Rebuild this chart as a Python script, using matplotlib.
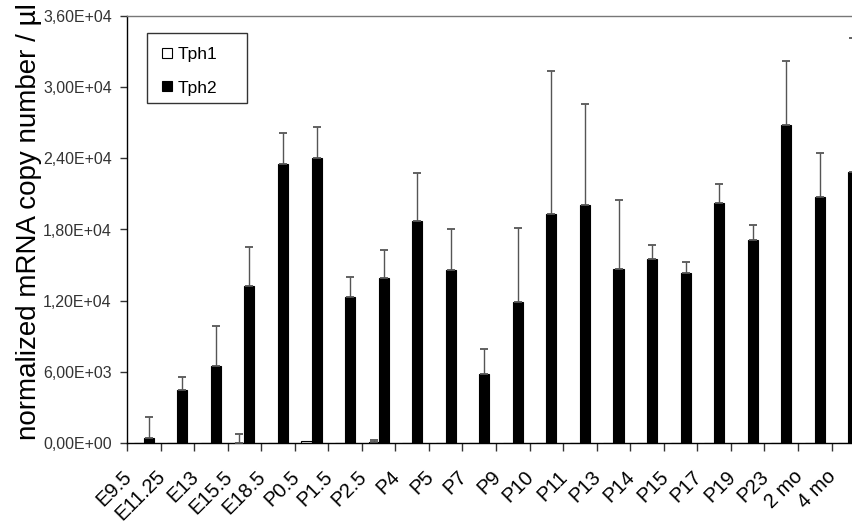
import matplotlib
matplotlib.use("Agg")
import matplotlib.pyplot as plt
import numpy as np
from matplotlib.patches import Rectangle
from matplotlib.ticker import FixedLocator, FuncFormatter, NullFormatter
from matplotlib.transforms import ScaledTranslation
from matplotlib.lines import Line2D

plt.rcParams['font.family'] = ['Liberation Sans', 'DejaVu Sans']

categories = ["E9.5", "E11.25", "E13", "E15.5", "E18.5", "P0.5", "P1.5", "P2.5",
              "P4", "P5", "P7", "P9", "P10", "P11", "P13", "P14", "P15", "P17",
              "P19", "P23", "2 mo", "4 mo"]
tph1 = [0, 0, 0, 30, 0, 150, 0, 80, 0, 0, 0, 0, 0, 0, 0, 0, 0, 0, 0, 0, 0, 0]
tph1_err = [0, 0, 0, 700, 0, 0, 0, 170, 0, 0, 0, 0, 0, 0, 0, 0, 0, 0, 0, 0, 0, 0]
tph2 = [400, 4450, 6500, 13200, 23550, 24050, 12330, 13950, 18750, 14600, 5800,
        11850, 19300, 20100, 14700, 15550, 14350, 20250, 17100, 26850, 20700, 22850]
tph2_err = [1800, 1150, 3350, 3300, 2550, 2550, 1670, 2350, 4050, 3400, 2100,
            6300, 12050, 8450, 5750, 1150, 950, 1600, 1270, 5350, 3750, 11300]
yticks = [0, 6000, 12000, 18000, 24000, 30000, 36000]

W, H = 853, 530
fig = plt.figure(figsize=(W / 100, H / 100), dpi=100)
ax_left, ax_top, ax_bottom = 127, 16, 443
AW, AH = W - ax_left, ax_bottom - ax_top
ax = fig.add_axes([ax_left / W, (H - ax_bottom) / H, AW / W, AH / H])

group_px = 33.55
x = np.arange(len(categories))
bw = 0.30

ax.bar(x - bw / 2, tph1, bw, color='white', edgecolor='black', linewidth=0.8, zorder=2)
ax.bar(x + bw / 2, tph2, bw, color='black', edgecolor='black', linewidth=0.8, zorder=2)

e1 = np.array(tph1_err)
m1 = e1 > 0
ax.errorbar((x - bw / 2)[m1], np.array(tph1)[m1], yerr=[np.zeros(m1.sum()), e1[m1]],
            fmt='none', ecolor='#555555', elinewidth=1, capsize=3, capthick=1.3, zorder=3)
e2 = np.array(tph2_err)
ax.errorbar(x + bw / 2, tph2, yerr=[np.zeros(len(x)), e2],
            fmt='none', ecolor='#555555', elinewidth=1, capsize=3, capthick=1.3, zorder=3)

ax.set_xlim(-0.5, -0.5 + AW / group_px)
ax.set_ylim(0, 36000)

# x ticks: marks at group boundaries; category labels drawn as rotated texts
ax.xaxis.set_major_locator(FixedLocator(np.arange(len(categories) + 1) - 0.5))
ax.xaxis.set_major_formatter(NullFormatter())
ax.tick_params(axis='x', which='major', direction='out', length=6, width=1, color='#333333')
lab_trans = ax.get_xaxis_transform() + ScaledTranslation(-22 / 100, -24 / 100, fig.dpi_scale_trans)
for xi, cat in zip(x, categories):
    ax.text(xi, 0, cat, transform=lab_trans, rotation=45, ha='right', va='top',
            rotation_mode='anchor', fontsize=14.5, clip_on=False)

ax.set_yticks(yticks)
ax.yaxis.set_major_formatter(FuncFormatter(lambda v, p: f"{v:.2E}".replace('.', ',')))
ax.tick_params(axis='y', direction='out', length=5, width=1, pad=6, labelsize=11.5, color='#333333')
for lab in ax.get_yticklabels():
    lab.set_color('#333333')

ax.set_ylabel("normalized mRNA copy number / µl", fontsize=20)
ax.yaxis.set_label_coords((42 - ax_left) / AW, (ax_bottom - 222) / AH)

for s in ['left', 'bottom']:
    ax.spines[s].set_color('black')
    ax.spines[s].set_linewidth(1)
ax.spines['top'].set_color('#777777')
ax.spines['top'].set_linewidth(1)
ax.spines['right'].set_visible(False)

ax.add_patch(Rectangle(((147 - ax_left) / AW, 1 - (103 - ax_top) / AH), 100 / AW, 70 / AH,
                       transform=ax.transAxes, facecolor='white', edgecolor='#333333',
                       linewidth=1, zorder=4))
handles = [Line2D([], [], marker='s', ls='none', markersize=7.5, markerfacecolor='white',
                  markeredgecolor='black', markeredgewidth=0.8, label='Tph1'),
           Line2D([], [], marker='s', ls='none', markersize=7.5, markerfacecolor='black',
                  markeredgecolor='black', markeredgewidth=0.8, label='Tph2')]
leg = ax.legend(handles=handles, loc='upper left',
                bbox_to_anchor=((160 - ax_left) / AW, 1 - (47 - ax_top) / AH),
                fontsize=12.5, frameon=False,
                handlelength=0.8, handletextpad=0.2, labelspacing=1.05,
                borderpad=0, borderaxespad=0)
leg.set_zorder(5)

fig.savefig("out.png", dpi=100)
